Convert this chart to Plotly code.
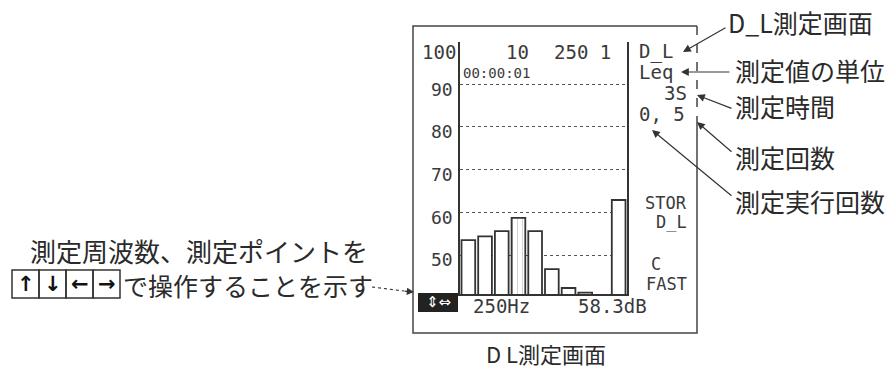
import plotly.graph_objects as go

# ---------------- data ----------------
bands = ["31.5", "63", "125", "250", "500", "1k", "2k", "4k", "8k", "AP"]
levels = [53.5, 54.4, 55.6, 58.7, 55.6, 46.7, 42.3, 41.2, None, 62.9]
ytick_vals = [50, 60, 70, 80, 90]
ytick_text = ["50", "60", "70", "80", "90"]
cursor_band = "250"
cursor_readout = ["250Hz", "58.3dB"]
header_items = ["100", "10", "250 1"]
elapsed = "00:00:01"
side_top = ["D_L", "Leq", "3S", "0, 5"]
side_mid = ["STOR", "D_L"]
side_low = ["C", "FAST"]
callouts = ["D_L測定画面", "測定値の単位", "測定時間", "測定回数", "測定実行回数"]
left_note_1 = "測定周波数、測定ポイントを"
left_note_2 = "で操作することを示す"
key_arrows = ["↑", "↓", "←", "→"]
caption = "D L測定画面"

# ---------------- helpers ----------------
W, H = 895, 368
def px(x):
    return x / W
def py(y):
    return 1 - y / H

LCD = "DejaVu Sans Mono"
JP = "Noto Sans CJK JP"
INK = "#3a3a3a"

fig = go.Figure()
fig.add_trace(go.Bar(
    x=bands, y=levels, width=0.82,
    marker=dict(color="white", line=dict(color="#333333", width=1.8),
                pattern=dict(shape=["", "", "", "|", "", "", "", "", "", ""],
                             fgcolor="#aaaaaa", size=5, solidity=0.2)),
    hoverinfo="skip", showlegend=False,
))

fig.update_layout(
    width=W, height=H, autosize=False,
    margin=dict(l=0, r=0, t=0, b=0),
    paper_bgcolor="white", plot_bgcolor="white",
    bargap=0.18,
    xaxis=dict(domain=[px(460), px(627)], range=[-0.5, 9.5], showticklabels=False,
               showgrid=False, zeroline=False, showline=True, linecolor="#333333",
               linewidth=1.5, ticks="", fixedrange=True),
    yaxis=dict(domain=[py(294), py(41.5)], range=[40.9, 100.0],
               tickvals=ytick_vals, ticktext=ytick_text,
               tickfont=dict(family=LCD, size=18, color=INK),
               ticks="", ticklabelstandoff=2, ticklabelshift=5,
               showgrid=True, gridcolor="#555555", griddash="dot", gridwidth=1.4,
               zeroline=False, showline=True, mirror=True, linecolor="#333333",
               linewidth=1.5, fixedrange=True),
)

shapes = []
# outer LCD frame (left, top, bottom, lower right solid; upper right broken)
shapes.append(dict(type="path", xref="paper", yref="paper",
                   path=f"M {px(697)} {py(120)} L {px(697)} {py(333)} L {px(413)} {py(333)} "
                        f"L {px(413)} {py(26)} L {px(697)} {py(26)}",
                   line=dict(color="#444444", width=1.5)))
shapes.append(dict(type="line", xref="paper", yref="paper",
                   x0=px(697), x1=px(697), y0=py(26), y1=py(120),
                   line=dict(color="#444444", width=1.5, dash="dash")))
# cursor line
shapes.append(dict(type="line", xref="x", yref="paper",
                   x0=cursor_band, x1=cursor_band, y0=py(294), y1=py(38),
                   line=dict(color="#444444", width=1.5, dash="dot")))
# icon box
shapes.append(dict(type="rect", xref="paper", yref="paper",
                   x0=px(418), x1=px(458), y0=py(312), y1=py(293),
                   fillcolor="#222222", line=dict(width=0)))
# key boxes
for i in range(4):
    shapes.append(dict(type="rect", xref="paper", yref="paper",
                       x0=px(12 + 27 * i), x1=px(39 + 27 * i), y0=py(298), y1=py(270),
                       line=dict(color="#333333", width=1.5)))
# dashed pointer to icon
shapes.append(dict(type="line", xref="paper", yref="paper",
                   x0=px(372), x1=px(404), y0=py(287), y1=py(291),
                   line=dict(color="#333333", width=1.2, dash="dot")))
fig.update_layout(shapes=shapes)

ann = []
def txt(t, x, y, size, family=LCD, xanchor="left", color=INK, **kw):
    ann.append(dict(text=t, x=px(x), y=py(y), xref="paper", yref="paper",
                    xanchor=xanchor, yanchor="middle", showarrow=False,
                    font=dict(family=family, size=size, color=color), **kw))

# header row
txt(header_items[0], 458, 52, 19, xanchor="right")
txt(header_items[1], 504, 52, 19)
txt(header_items[2], 552, 52, 19)
txt(elapsed, 461, 73, 14)
# side panel
txt(side_top[0], 637, 52, 19)
txt(side_top[1], 637, 72, 19)
txt(side_top[2], 689, 93, 19, xanchor="right")
txt(side_top[3], 637, 114, 19)
txt(side_mid[0], 689, 203, 17, xanchor="right")
txt(side_mid[1], 689, 222, 17, xanchor="right")
txt(side_low[0], 656, 264, 17, xanchor="center")
txt(side_low[1], 689, 284, 17, xanchor="right")
# bottom readout
txt("⇕⇔", 438, 302, 15, family="DejaVu Sans", xanchor="center", color="white")
txt(cursor_readout[0], 471, 306, 19)
txt(cursor_readout[1], 649, 306, 19, xanchor="right")

# right callouts
callout_pos = [(726, 22), (733, 70), (733, 106), (733, 157), (733, 201)]
heads = [(683, 52), (681, 72), (697, 95), (697, 122), (652, 130)]
tails = [(727, 27), (731, 72), (733, 109), (733, 153), (733, 197)]
for t, (x, y) in zip(callouts, callout_pos):
    txt(t, x, y, 25, family=JP, color="#2a2a2a")
for (hx, hy), (tx, ty) in zip(heads, tails):
    ann.append(dict(text="", x=px(hx), y=py(hy), xref="paper", yref="paper",
                    ax=tx - hx, ay=ty - hy, showarrow=True, arrowhead=2,
                    arrowsize=1.3, arrowwidth=1.2, arrowcolor="#333333"))

# left notes
txt(left_note_1, 28, 250, 26, family=JP, color="#2a2a2a")
txt(left_note_2, 121, 285, 25, family=JP, color="#2a2a2a")
for i, a in enumerate(key_arrows):
    txt("<b>" + a + "</b>", 25.5 + 27 * i, 284, 21, family="DejaVu Sans",
        xanchor="center", color="#111111")
ann.append(dict(text="", x=px(414), y=py(292), xref="paper", yref="paper",
                ax=-11, ay=-1, showarrow=True, arrowhead=2, arrowsize=1.2,
                arrowwidth=1.2, arrowcolor="#333333"))

# caption
txt(caption, 546, 353, 22, family=JP, xanchor="center", color="#2a2a2a")

fig.update_layout(annotations=ann)
fig.write_html("out.html", config={"displayModeBar": False},
               post_script="document.body.style.margin='0';document.body.style.overflow='hidden';")
